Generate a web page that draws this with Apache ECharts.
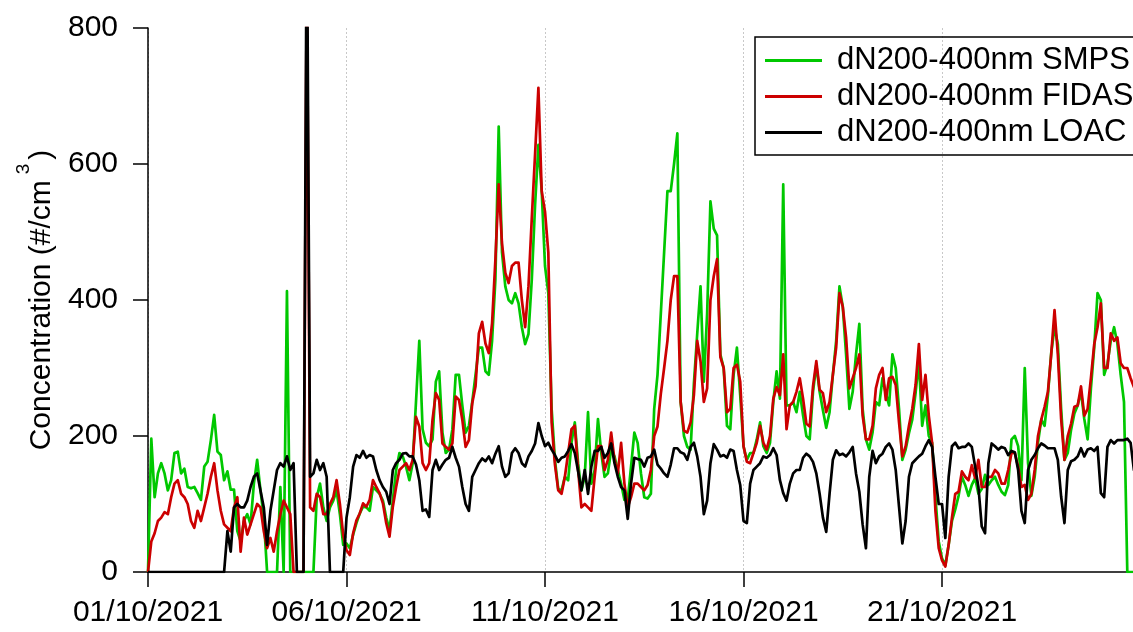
<!DOCTYPE html>
<html>
<head>
<meta charset="utf-8">
<title>dN200-400nm</title>
<script src="https://cdn.jsdelivr.net/npm/echarts@6/dist/echarts.min.js"></script>
<style>
  html, body { margin: 0; padding: 0; background: #fff; }
  #chart { width: 1133px; height: 632px; }
</style>
</head>
<body>
<div id="chart"></div>
<script>
// Sampling step of every series, in hours, starting 01/10/2021 00:00
const STEP_HOURS = 2;

// Date labels of the major ticks (every 5 days)
const dateTicks = ['01/10/2021', '06/10/2021', '11/10/2021', '16/10/2021', '21/10/2021'];

// Shown time window, in days from 01/10/2021 00:00
const X_MIN = 0;
const X_MAX = 24.81;

const seriesNames = ['dN200-400nm SMPS', 'dN200-400nm FIDAS', 'dN200-400nm LOAC'];

// SMPS, #/cm3, one row per day (12 samples)
const smps = [
  0, 196, 110, 145, 160, 145, 120, 135, 175, 177, 145, 152,
  125, 123, 125, 116, 106, 155, 162, 194, 231, 177, 172, 135,
  148, 121, 121, 60, 45, 75, 85, 70, 130, 165, 120, 80,
  0, 0, 0, 0, 125, 0, 413, 0, 0, 0, 0, 0,
  0, 0, 0, 110, 130, 95, 75, 95, 105, 120, 85, 40,
  42, 35, 55, 72, 86, 96, 95, 90, 125, 120, 115, 105,
  80, 62, 106, 150, 175, 170, 155, 135, 160, 250, 340, 210,
  190, 185, 195, 280, 295, 205, 175, 180, 210, 290, 290, 245,
  205, 215, 250, 290, 330, 330, 295, 290, 340, 430, 655, 470,
  420, 400, 395, 410, 395, 360, 335, 350, 430, 540, 628, 560,
  450, 410, 240, 165, 122, 120, 140, 135, 190, 220, 160, 120,
  140, 235, 130, 150, 225, 175, 140, 145, 180, 170, 150, 130,
  106, 106, 155, 205, 190, 145, 110, 108, 115, 240, 290, 380,
  470, 560, 560, 600, 645, 250, 200, 184, 180, 277, 350, 420,
  280, 380, 545, 505, 495, 320, 300, 215, 210, 290, 330, 260,
  185, 165, 175, 175, 195, 220, 185, 175, 190, 250, 295, 255,
  570, 245, 245, 250, 235, 265, 230, 200, 195, 265, 305, 265,
  238, 212, 235, 290, 340, 420, 390, 320, 240, 265, 320, 365,
  240, 195, 180, 205, 250, 245, 285, 263, 245, 320, 300, 240,
  165, 180, 204, 224, 263, 310, 215, 245, 200, 190, 110, 45,
  20, 10, 40, 75, 92, 112, 140, 128, 112, 128, 138, 115,
  122, 143, 128, 135, 140, 128, 118, 113, 128, 195, 200, 185,
  135, 300, 160, 112, 140, 190, 224, 215, 260, 322, 360, 335,
  240, 165, 175, 209, 233, 245, 265, 225, 195, 270, 330, 410,
  400, 290, 306, 340, 360, 336, 290, 250, 0, 0, 0, 0
];

// FIDAS, #/cm3
const fidas = [
  0, 45, 57, 75, 80, 88, 85, 110, 130, 135, 115, 110,
  100, 75, 65, 90, 75, 95, 115, 140, 160, 120, 90, 70,
  65, 60, 95, 110, 30, 80, 55, 70, 85, 100, 95, 60,
  35, 50, 30, 60, 85, 105, 95, 85, 0, 0, 0, 0,
  900, 95, 90, 115, 110, 85, 85, 100, 110, 135, 100, 55,
  32, 25, 57, 76, 86, 101, 96, 106, 135, 125, 116, 101,
  72, 52, 96, 125, 150, 155, 160, 150, 165, 228, 214, 160,
  150, 160, 224, 263, 253, 189, 184, 180, 189, 258, 253, 224,
  184, 194, 248, 273, 351, 368, 336, 322, 366, 459, 570, 483,
  440, 425, 450, 455, 455, 400, 360, 420, 520, 615, 712, 560,
  530, 470, 220, 158, 120, 115, 140, 175, 210, 215, 150, 95,
  100, 95, 90, 140, 185, 185, 150, 165, 205, 165, 145, 190,
  130, 95, 110, 130, 130, 125, 120, 128, 150, 200, 214, 262,
  300, 340, 400, 435, 435, 250, 208, 205, 220, 260, 340, 310,
  250, 270, 400, 435, 460, 316, 300, 235, 240, 300, 305, 280,
  185, 162, 160, 175, 190, 215, 190, 180, 200, 255, 272, 260,
  320, 210, 245, 250, 265, 285, 255, 218, 214, 273, 310, 268,
  263, 235, 250, 290, 330, 410, 390, 345, 270, 285, 300, 320,
  230, 195, 195, 215, 270, 290, 300, 253, 285, 287, 275, 220,
  170, 185, 215, 240, 275, 335, 253, 290, 230, 190, 90, 35,
  17, 8, 40, 80, 115, 118, 148, 140, 135, 157, 138, 165,
  125, 125, 140, 140, 150, 145, 130, 130, 150, 175, 175, 155,
  125, 128, 106, 115, 150, 200, 224, 243, 265, 320, 385, 320,
  225, 165, 200, 218, 243, 245, 273, 230, 240, 285, 335, 360,
  395, 300, 300, 351, 340, 345, 307, 300, 300, 285, 272, 270
];

// LOAC, #/cm3
const loac = [
  0, 0, 0, 0, 0, 0, 0, 0, 0, 0, 0, 0,
  0, 0, 0, 0, 0, 0, 0, 0, 0, 0, 0, 0,
  60, 30, 95, 100, 95, 95, 105, 125, 140, 145, 120, 95,
  40, 90, 120, 150, 160, 155, 170, 150, 160, 0, 0, 0,
  1000, 140, 145, 165, 150, 160, 140, 0, 0, 0, 0, 0,
  80, 110, 155, 172, 168, 178, 168, 172, 170, 150, 135, 125,
  118, 100, 150, 160, 165, 174, 175, 170, 170, 158, 135, 90,
  92, 81, 150, 165, 150, 158, 165, 168, 184, 168, 155, 125,
  100, 90, 140, 150, 160, 167, 163, 170, 160, 174, 185, 155,
  140, 145, 175, 182, 175, 160, 155, 170, 178, 189, 219, 200,
  185, 190, 180, 172, 162, 168, 170, 178, 188, 175, 148, 120,
  150, 115, 155, 178, 178, 184, 168, 175, 189, 160, 140, 125,
  120, 78, 130, 168, 166, 165, 155, 168, 170, 180, 158, 152,
  145, 140, 158, 182, 182, 176, 174, 165, 184, 190, 170, 140,
  85, 105, 160, 188, 180, 170, 172, 168, 180, 178, 150, 128,
  75, 72, 130, 150, 155, 160, 170, 168, 172, 182, 172, 135,
  116, 105, 130, 145, 150, 150, 168, 174, 170, 162, 145, 115,
  80, 59, 115, 165, 179, 172, 174, 170, 176, 184, 145, 118,
  70, 35, 140, 178, 160, 170, 174, 184, 189, 180, 150, 96,
  42, 75, 140, 160, 165, 170, 174, 185, 194, 184, 140, 100,
  100, 50, 140, 185, 190, 182, 184, 184, 189, 184, 155, 125,
  67, 57, 160, 189, 185, 180, 184, 182, 172, 178, 176, 150,
  90, 72, 150, 165, 172, 182, 189, 186, 182, 182, 182, 165,
  111, 72, 150, 163, 165, 170, 182, 170, 180, 182, 178, 184,
  116, 110, 184, 194, 189, 194, 194, 194, 196, 190, 150, 150
];

const colors = ['#00c800', '#cc0000', '#000000'];
const FONT = '"Liberation Sans", Arial, Helvetica, sans-serif';

// x in days since 01/10/2021 00:00
function toPoints(values) {
  return values.map((v, i) => [i * STEP_HOURS / 24, v]);
}

const chart = echarts.init(document.getElementById('chart'), null, { renderer: 'canvas' });

chart.setOption({
  animation: false,
  backgroundColor: '#ffffff',
  textStyle: { fontFamily: FONT },
  grid: { left: 148, top: 28, right: 0, bottom: 60, containLabel: false },
  legend: {
    orient: 'vertical',
    left: 755,
    top: 37,
    padding: [8, 30, 7, 10],
    itemGap: 5,
    itemWidth: 57,
    itemHeight: 3,
    icon: 'rect',
    borderColor: '#000',
    borderWidth: 1.5,
    selectedMode: false,
    textStyle: { fontSize: 31, color: '#000', fontFamily: FONT, lineHeight: 30, padding: [0, 0, 0, 10] },
    data: seriesNames
  },
  xAxis: {
    type: 'value',
    min: X_MIN,
    max: X_MAX,
    interval: 5,
    offset: 4,
    axisLine: { show: true, lineStyle: { color: '#000', width: 1.5 } },
    axisTick: { show: true, length: 15, lineStyle: { color: '#000', width: 1.5 } },
    axisLabel: {
      fontSize: 30, color: '#000', margin: 22, fontFamily: FONT, showMaxLabel: false,
      formatter: v => (Math.abs(v / 5 - Math.round(v / 5)) < 1e-6 ? (dateTicks[Math.round(v / 5)] || '') : '')
    },
    splitLine: { show: true, showMaxLine: false, lineStyle: { color: '#c8c8c8', width: 1, type: [2, 2] } }
  },
  yAxis: {
    type: 'value',
    min: 0,
    max: 800,
    interval: 200,
    offset: 4,
    axisLine: { show: true, lineStyle: { color: '#000', width: 1.5 } },
    axisTick: { show: true, length: 15, lineStyle: { color: '#000', width: 1.5 } },
    axisLabel: { fontSize: 30, color: '#000', margin: 26, fontFamily: FONT },
    splitLine: { show: false },
    name: '{a|Concentration (#/cm}{s|3}{a|)}',
    nameLocation: 'middle',
    nameGap: 74,
    nameTextStyle: {
      rich: {
        a: { fontSize: 30, color: '#000', fontFamily: FONT, lineHeight: 56 },
        s: { fontSize: 19, color: '#000', fontFamily: FONT, lineHeight: 19, verticalAlign: 'top', padding: [0, 4, 0, 6] }
      }
    }
  },
  series: [smps, fidas, loac].map((vals, k) => ({
    name: seriesNames[k],
    type: 'line',
    data: toPoints(vals),
    symbol: 'none',
    clip: true,
    lineStyle: { color: colors[k], width: 2.7, join: 'round' },
    itemStyle: { color: colors[k] },
    z: 2 + k
  }))
});
</script>
</body>
</html>
